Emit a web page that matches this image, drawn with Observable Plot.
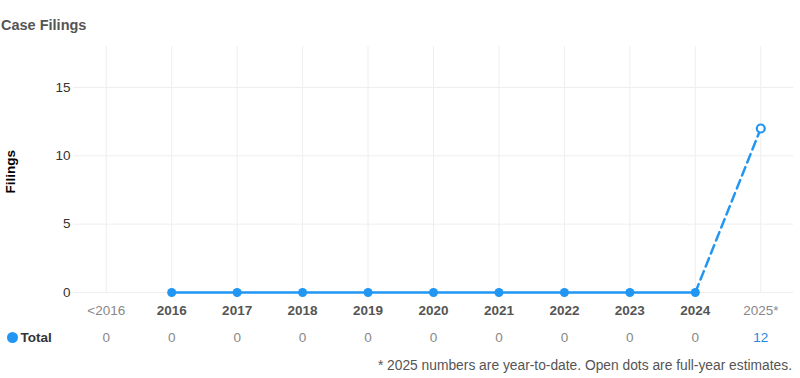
<!DOCTYPE html>
<html><head><meta charset="utf-8">
<script src="https://cdn.jsdelivr.net/npm/d3@7"></script>
<script src="https://cdn.jsdelivr.net/npm/@observablehq/plot@0.6"></script>
<style>
body{margin:0;background:#fff;font-family:"Liberation Sans",Arial,sans-serif;width:800px;}
#title{height:20px;padding-top:17px;line-height:16px;font-size:14.5px;font-weight:bold;color:#555;padding-left:1px;}
#foot{height:18px;line-height:18px;font-size:13.8px;color:#555;text-align:right;padding-right:8px;}
</style></head><body>
<div id="title">Case Filings</div>
<div id="chart"></div>
<div id="foot">* 2025 numbers are year-to-date. Open dots are full-year estimates.</div>
<script>
const categories = ["<2016","2016","2017","2018","2019","2020","2021","2022","2023","2024","2025*"];
const totals = [0,0,0,0,0,0,0,0,0,0,12];
const solidYears = ["2016","2017","2018","2019","2020","2021","2022","2023","2024"];
const estimateYears = ["2024","2025*"];
const openDotYears = ["2025*"];
const mutedLabels = ["<2016","2025*"];
const yTicks = [0,5,10,15];
const seriesName = "Total";
const yLabel = "Filings";

const blue = "#2196f3";
const rows = categories.map((c,i)=>({cat:c, value:totals[i]}));
const get = arr => rows.filter(r=>arr.includes(r.cat));

const plot = Plot.plot({
  width: 800, height: 320,
  marginLeft: 73, marginRight: 7, marginTop: 9, marginBottom: 65,
  style: {fontFamily: '"Liberation Sans",Arial,sans-serif', fontSize: "13.5px", color: "#333", background: "#fff", overflow: "visible"},
  x: {type: "point", domain: categories, padding: 0.5, round: false, axis: null},
  y: {domain: [0, 18], ticks: yTicks, tickSize: 0, tickPadding: 3, label: null},
  marks: [
    Plot.gridX(categories, {stroke: "#eee", strokeOpacity: 1}),
    Plot.gridY(yTicks, {stroke: "#eee", strokeOpacity: 1}),
    Plot.line(get(solidYears), {x: "cat", y: "value", stroke: blue, strokeWidth: 2.5}),
    Plot.line(get(estimateYears), {x: "cat", y: "value", stroke: blue, strokeWidth: 2.5, strokeDasharray: "9,5"}),
    Plot.dot(get(solidYears), {x: "cat", y: "value", fill: blue, r: 4.5}),
    Plot.dot(get(openDotYears), {x: "cat", y: "value", fill: "#fff", stroke: blue, strokeWidth: 2.2, r: 4}),
    Plot.text(categories.filter(c=>!mutedLabels.includes(c)), {x: d=>d, frameAnchor: "bottom", dy: 22, fill: "#555", fontWeight: "bold", fontSize: 13.5}),
    Plot.text(mutedLabels, {x: d=>d, frameAnchor: "bottom", dy: 22, fill: "#888", fontSize: 13.5}),
    Plot.text(rows, {x: "cat", text: d=>String(d.value), frameAnchor: "bottom", dy: 49, fill: d=>d.cat===openDotYears[0]?"#1e88e5":"#888", fontSize: 13.5}),
    Plot.dot([seriesName], {frameAnchor: "bottom-left", dx: -61, dy: 45, r: 5.5, fill: blue}),
    Plot.text([seriesName], {text: d=>d, frameAnchor: "bottom-left", dx: -53, dy: 49, textAnchor: "start", fill: "#333", fontWeight: "bold", fontSize: 13.5}),
    Plot.text([yLabel], {text: d=>d, frameAnchor: "left", dx: -63, dy: 24, rotate: -90, fill: "#000", fontWeight: "bold", fontSize: 13.5})
  ]
});
document.getElementById("chart").appendChild(plot);
</script>
</body></html>
